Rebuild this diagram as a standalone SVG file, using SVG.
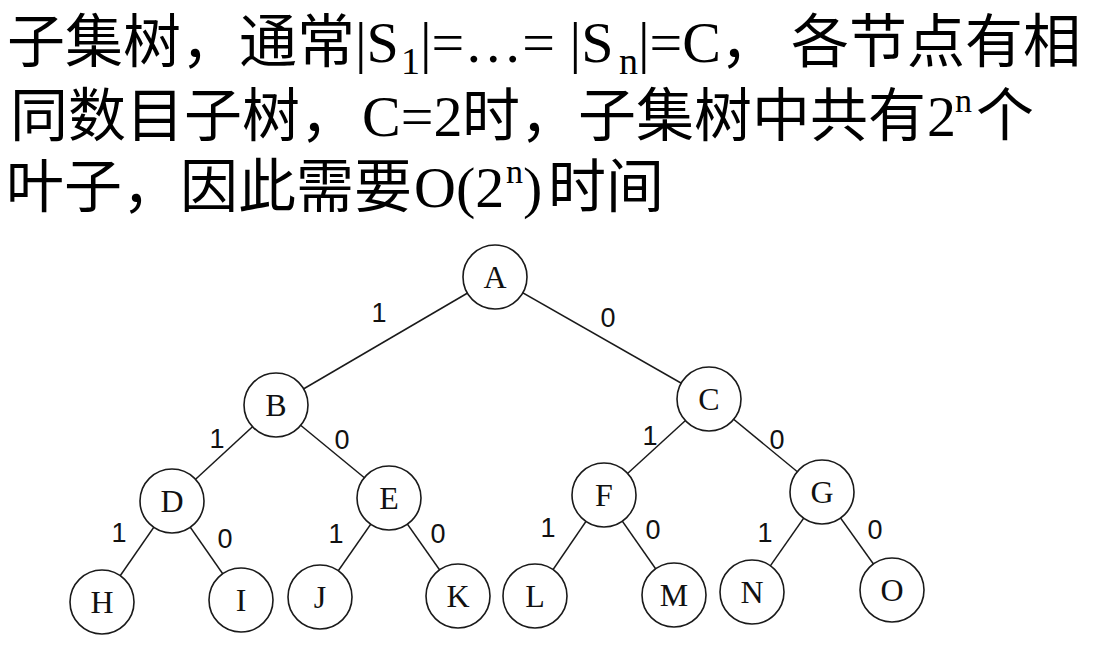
<svg xmlns="http://www.w3.org/2000/svg" width="1099" height="648" viewBox="0 0 1099 648">
<style>
.cjk{font-family:"Noto Sans CJK SC","Noto Sans",sans-serif;font-size:58px;fill:#000}
.lat{font-family:"Liberation Serif","Times New Roman",serif;font-size:58px;fill:#000}
.sub{font-family:"Liberation Serif","Times New Roman",serif;font-size:38px;fill:#000}
.sup{font-family:"Liberation Serif","Times New Roman",serif;font-size:34px;fill:#000}
.edge{stroke:#1a1a1a;stroke-width:1.5;fill:none}
.node circle{fill:#fff;stroke:#1a1a1a;stroke-width:1.6}
.node text{font-family:"Liberation Serif","Times New Roman",serif;font-size:32px;fill:#111;text-anchor:middle}
.lbl{font-family:"Liberation Sans",Arial,sans-serif;font-size:27px;fill:#111;text-anchor:middle}
</style>
<rect width="1099" height="648" fill="#fff"/>
<g id="caption">
<text><tspan class="cjk" x="7" y="62">子集树，通常</tspan><tspan class="lat" x="355" y="62">|S</tspan><tspan class="sub" x="401" y="74">1</tspan><tspan class="lat" x="420" y="62">|=…= |S</tspan><tspan class="sub" x="619" y="74">n</tspan><tspan class="lat" x="638" y="62">|=C</tspan><tspan class="cjk" x="720" y="62">，</tspan><tspan class="cjk" x="791" y="62">各节点有相</tspan></text>
<text><tspan class="cjk" x="10" y="136">同数目子树，</tspan><tspan class="lat" x="362" y="136">C=2</tspan><tspan class="cjk" x="462" y="136">时，子集树中共有</tspan><tspan class="lat" x="927" y="136">2</tspan><tspan class="sup" x="955" y="112">n</tspan><tspan class="cjk" x="976" y="136">个</tspan></text>
<text><tspan class="cjk" x="6" y="207">叶子，因此需要</tspan><tspan class="lat" x="414" y="207">O(2</tspan><tspan class="sup" x="506" y="183">n</tspan><tspan class="lat" x="523" y="207">)</tspan><tspan class="cjk" x="548" y="207">时间</tspan></text>
</g>
<g id="connectors">
<line class="edge" x1="495" y1="277" x2="276" y2="405"/>
<line class="edge" x1="495" y1="277" x2="709" y2="399"/>
<line class="edge" x1="276" y1="405" x2="172" y2="501"/>
<line class="edge" x1="276" y1="405" x2="389" y2="498"/>
<line class="edge" x1="709" y1="399" x2="604" y2="495"/>
<line class="edge" x1="709" y1="399" x2="822" y2="492"/>
<line class="edge" x1="172" y1="501" x2="102" y2="602"/>
<line class="edge" x1="172" y1="501" x2="241" y2="600"/>
<line class="edge" x1="389" y1="498" x2="320" y2="597"/>
<line class="edge" x1="389" y1="498" x2="458" y2="596"/>
<line class="edge" x1="604" y1="495" x2="535" y2="596"/>
<line class="edge" x1="604" y1="495" x2="674" y2="595"/>
<line class="edge" x1="822" y1="492" x2="752" y2="592"/>
<line class="edge" x1="822" y1="492" x2="892" y2="590"/>
<text class="lbl" x="379" y="322">1</text>
<text class="lbl" x="608" y="327">0</text>
<text class="lbl" x="217" y="448">1</text>
<text class="lbl" x="342" y="449">0</text>
<text class="lbl" x="119" y="542">1</text>
<text class="lbl" x="225" y="548">0</text>
<text class="lbl" x="336" y="543">1</text>
<text class="lbl" x="438" y="543">0</text>
<text class="lbl" x="650" y="445">1</text>
<text class="lbl" x="777" y="449">0</text>
<text class="lbl" x="548" y="537">1</text>
<text class="lbl" x="653" y="539">0</text>
<text class="lbl" x="765" y="542">1</text>
<text class="lbl" x="875" y="539">0</text>
</g>
<g id="node-A" class="node"><circle cx="495" cy="277" r="32"/><text x="495" y="288">A</text></g>
<g id="node-B" class="node"><circle cx="276" cy="405" r="32"/><text x="276" y="416">B</text></g>
<g id="node-C" class="node"><circle cx="709" cy="399" r="32"/><text x="709" y="410">C</text></g>
<g id="node-D" class="node"><circle cx="172" cy="501" r="32"/><text x="172" y="512">D</text></g>
<g id="node-E" class="node"><circle cx="389" cy="498" r="32"/><text x="389" y="509">E</text></g>
<g id="node-F" class="node"><circle cx="604" cy="495" r="32"/><text x="604" y="506">F</text></g>
<g id="node-G" class="node"><circle cx="822" cy="492" r="32"/><text x="822" y="503">G</text></g>
<g id="node-H" class="node"><circle cx="102" cy="602" r="32"/><text x="102" y="613">H</text></g>
<g id="node-I" class="node"><circle cx="241" cy="600" r="32"/><text x="241" y="611">I</text></g>
<g id="node-J" class="node"><circle cx="320" cy="597" r="32"/><text x="320" y="608">J</text></g>
<g id="node-K" class="node"><circle cx="458" cy="596" r="32"/><text x="458" y="607">K</text></g>
<g id="node-L" class="node"><circle cx="535" cy="596" r="32"/><text x="535" y="607">L</text></g>
<g id="node-M" class="node"><circle cx="674" cy="595" r="32"/><text x="674" y="606">M</text></g>
<g id="node-N" class="node"><circle cx="752" cy="592" r="32"/><text x="752" y="603">N</text></g>
<g id="node-O" class="node"><circle cx="892" cy="590" r="32"/><text x="892" y="601">O</text></g>
</svg>
